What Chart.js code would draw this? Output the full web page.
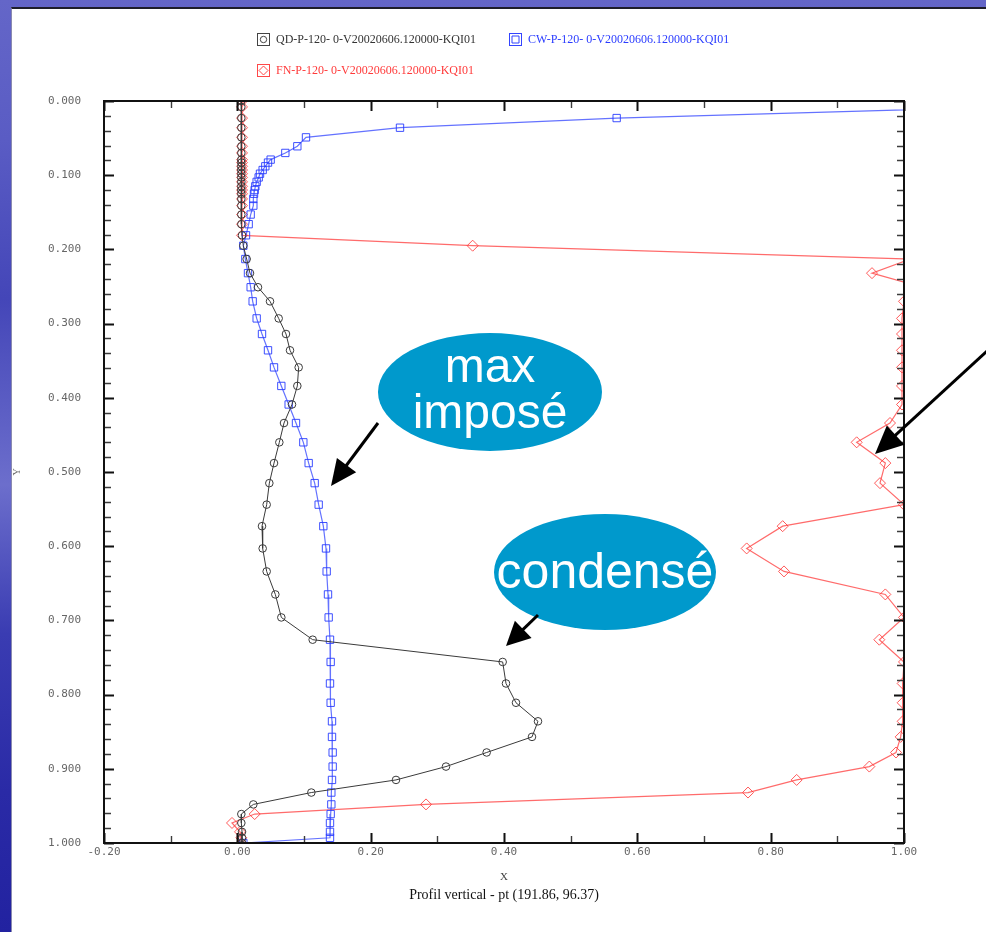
<!DOCTYPE html>
<html>
<head>
<meta charset="utf-8">
<title>Profil vertical</title>
<script src="https://cdn.jsdelivr.net/npm/chart.js@4.4.0/dist/chart.umd.min.js"></script>
<style>
  html, body { margin: 0; padding: 0; width: 986px; height: 932px; overflow: hidden; }
  body {
    position: relative;
    background: linear-gradient(180deg, #6466c8 0%, #5a5cc4 15%, #4446b8 32%, #6c6ecc 52%, #3a3cb2 68%, #2a2aa6 85%, #2222a0 100%);
  }
  #panel {
    position: absolute; left: 11px; top: 7px; right: 0; bottom: 0;
    background: #fff;
    border-top: 2px solid #1e1e2a;
    border-left: 1px solid #8a8ab0;
  }
  #wrap { position: absolute; left: 0; top: 0; width: 986px; height: 932px; }
</style>
</head>
<body>
<div id="panel"></div>
<div id="wrap"><canvas id="c" width="986" height="932"></canvas></div>
<script>
// Vertical levels (Y, 0 at the top) shared by the three profiles
const LEVELS = [
  0.000, 0.008, 0.023, 0.036, 0.049, 0.061, 0.070, 0.079, 0.083, 0.088,
  0.093, 0.098, 0.103, 0.109, 0.115, 0.120, 0.125, 0.132, 0.141, 0.153,
  0.166, 0.181, 0.195, 0.213, 0.232, 0.251, 0.270, 0.293, 0.314, 0.336,
  0.359, 0.384, 0.409, 0.434, 0.460, 0.488, 0.515, 0.544, 0.573, 0.603,
  0.634, 0.665, 0.696, 0.726, 0.756, 0.785, 0.811, 0.836, 0.857, 0.878,
  0.897, 0.915, 0.932, 0.948, 0.961, 0.973, 0.985, 0.993, 1.000
];

// QD profile (X value at each level)
const QD = [
  0.006, 0.006, 0.006, 0.006, 0.006, 0.006, 0.006, 0.006, 0.006, 0.006,
  0.006, 0.006, 0.006, 0.006, 0.006, 0.006, 0.006, 0.006, 0.006, 0.006,
  0.006, 0.007, 0.009, 0.014, 0.019, 0.031, 0.049, 0.062, 0.073, 0.079,
  0.092, 0.090, 0.082, 0.070, 0.063, 0.055, 0.048, 0.044, 0.037, 0.038,
  0.044, 0.057, 0.066, 0.113, 0.398, 0.403, 0.418, 0.451, 0.442, 0.374,
  0.313, 0.238, 0.111, 0.024, 0.006, 0.006, 0.007, 0.007, 0.007
];

// CW profile
const CW = [
  1.600, 1.157, 0.569, 0.244, 0.103, 0.090, 0.072, 0.050, 0.046, 0.042,
  0.038, 0.034, 0.032, 0.029, 0.027, 0.026, 0.025, 0.024, 0.024, 0.020,
  0.017, 0.013, 0.009, 0.012, 0.016, 0.020, 0.023, 0.029, 0.037, 0.046,
  0.055, 0.066, 0.077, 0.088, 0.099, 0.107, 0.116, 0.122, 0.129, 0.133,
  0.134, 0.136, 0.137, 0.139, 0.140, 0.139, 0.140, 0.142, 0.142, 0.143,
  0.143, 0.142, 0.141, 0.141, 0.140, 0.139, 0.139, 0.139, 0.009
];

// FN profile
const FN = [
  0.007, 0.007, 0.007, 0.007, 0.007, 0.007, 0.007, 0.007, 0.007, 0.007,
  0.007, 0.007, 0.007, 0.007, 0.007, 0.007, 0.007, 0.007, 0.007, 0.007,
  0.007, 0.007, 0.353, 1.010, 0.952, 1.028, 1.000, 0.997, 0.997, 0.997,
  0.997, 0.997, 0.997, 0.979, 0.929, 0.972, 0.964, 1.000, 0.818, 0.764,
  0.820, 0.972, 1.000, 0.963, 1.000, 0.998, 0.998, 0.998, 0.995, 0.988,
  0.948, 0.839, 0.766, 0.283, 0.026, -0.008, 0.004, 0.006, 0.006
];

const SERIES_NAMES = [
  'QD-P-120- 0-V20020606.120000-KQI01',
  'CW-P-120- 0-V20020606.120000-KQI01',
  'FN-P-120- 0-V20020606.120000-KQI01'
];

const X_TICK_LABELS = ['-0.20', '0.00', '0.20', '0.40', '0.60', '0.80', '1.00'];
const Y_TICK_LABELS = ['0.000', '0.100', '0.200', '0.300', '0.400', '0.500',
                       '0.600', '0.700', '0.800', '0.900', '1.000'];

const SUBTITLE = 'Profil vertical - pt (191.86, 96.37)';
const CALLOUT_TEXTS = [['max', 'imposé'], ['condensé']];

const toPoints = (xs) => xs.map((v, i) => ({ x: v, y: LEVELS[i] }));

const COLORS = {
  qd: '#3a3a3a',
  cwLine: 'rgba(40, 60, 255, 0.72)',
  cwMark: 'rgba(40, 60, 255, 0.9)',
  fnLine: 'rgba(255, 50, 50, 0.72)',
  fnMark: 'rgba(255, 60, 60, 0.85)'
};

// inward tick marks on all four sides plus the plot frame
const frameTicks = {
  id: 'frameTicks',
  afterDatasetsDraw(chart) {
    const { ctx, chartArea: a, scales: { x, y } } = chart;
    ctx.save();
    for (let i = 0; i <= 50; i++) {
      const major = i % 5 === 0;
      const py = Math.round(y.getPixelForValue(i / 50)) + 0.5;
      const len = major ? 10 : 7;
      ctx.strokeStyle = major ? '#111' : '#3c3c3c';
      ctx.lineWidth = major ? 2 : 1.4;
      ctx.beginPath();
      ctx.moveTo(a.left, py); ctx.lineTo(a.left + len, py);
      ctx.moveTo(a.right, py); ctx.lineTo(a.right - len, py);
      ctx.stroke();
    }
    for (let i = 0; i <= 12; i++) {
      const major = i % 2 === 0;
      const px = Math.round(x.getPixelForValue(-0.2 + i * 0.1)) + 0.5;
      const len = major ? 10 : 7;
      ctx.strokeStyle = major ? '#111' : '#3c3c3c';
      ctx.lineWidth = major ? 2 : 1.4;
      ctx.beginPath();
      ctx.moveTo(px, a.top); ctx.lineTo(px, a.top + len);
      ctx.moveTo(px, a.bottom); ctx.lineTo(px, a.bottom - len);
      ctx.stroke();
    }
    ctx.strokeStyle = '#111';
    ctx.lineWidth = 2;
    ctx.strokeRect(a.left, a.top, a.right - a.left, a.bottom - a.top);
    ctx.restore();
  }
};

function legendIcon(ctx, kind, x, y, color) {
  ctx.save();
  ctx.strokeStyle = color;
  ctx.lineWidth = 1;
  ctx.strokeRect(x + 0.5, y + 0.5, 12, 12);
  const cx = x + 6.5, cy = y + 6.5;
  ctx.beginPath();
  if (kind === 'circle') {
    ctx.arc(cx, cy, 3.2, 0, Math.PI * 2);
  } else if (kind === 'rect') {
    ctx.rect(cx - 3.5, cy - 3.5, 7, 7);
  } else {
    ctx.moveTo(cx, cy - 4.5); ctx.lineTo(cx + 4.5, cy);
    ctx.lineTo(cx, cy + 4.5); ctx.lineTo(cx - 4.5, cy); ctx.closePath();
  }
  ctx.stroke();
  ctx.restore();
}

function arrow(ctx, x1, y1, x2, y2, head, width) {
  const ang = Math.atan2(y2 - y1, x2 - x1);
  const bx = x2 - Math.cos(ang) * head, by = y2 - Math.sin(ang) * head;
  ctx.save();
  ctx.strokeStyle = '#000';
  ctx.fillStyle = '#000';
  ctx.lineWidth = 3;
  ctx.beginPath();
  ctx.moveTo(x1, y1); ctx.lineTo(bx + Math.cos(ang) * 2, by + Math.sin(ang) * 2);
  ctx.stroke();
  ctx.beginPath();
  ctx.moveTo(x2, y2);
  ctx.lineTo(bx + Math.sin(ang) * width / 2, by - Math.cos(ang) * width / 2);
  ctx.lineTo(bx - Math.sin(ang) * width / 2, by + Math.cos(ang) * width / 2);
  ctx.closePath();
  ctx.fill();
  ctx.restore();
}

// legend, subtitle and the callouts
const decorations = {
  id: 'decorations',
  afterDraw(chart) {
    const { ctx, chartArea: a } = chart;
    ctx.save();
    ctx.font = '12px "Liberation Serif", "Times New Roman", serif';
    ctx.textBaseline = 'middle';
    ctx.textAlign = 'left';
    const items = [
      { kind: 'circle', color: '#444', text: '#333', x: 257, y: 40 },
      { kind: 'rect', color: '#3344ff', text: '#2a3cff', x: 509, y: 40 },
      { kind: 'rectRot', color: '#ff4848', text: '#ff3a3a', x: 257, y: 71 }
    ];
    items.forEach((it, i) => {
      legendIcon(ctx, it.kind, it.x, it.y - 7, it.color);
      ctx.fillStyle = it.text;
      ctx.fillText(SERIES_NAMES[i], it.x + 19, it.y);
    });

    ctx.fillStyle = '#111';
    ctx.textAlign = 'center';
    ctx.font = '14px "Liberation Serif", "Times New Roman", serif';
    ctx.fillText(SUBTITLE, (a.left + a.right) / 2, 895);

    // callouts
    const bubbles = [
      { cx: 490, cy: 392, rx: 112, ry: 59, lines: CALLOUT_TEXTS[0], size: 48, base: [382, 428] },
      { cx: 605, cy: 572, rx: 111, ry: 58, lines: CALLOUT_TEXTS[1], size: 50, base: [588] }
    ];
    bubbles.forEach(b => {
      ctx.fillStyle = '#0099cc';
      ctx.beginPath();
      ctx.ellipse(b.cx, b.cy, b.rx, b.ry, 0, 0, Math.PI * 2);
      ctx.fill();
      ctx.fillStyle = '#fff';
      ctx.font = b.size + 'px "Liberation Sans", Arial, sans-serif';
      ctx.textBaseline = 'alphabetic';
      b.lines.forEach((t, k) => ctx.fillText(t, b.cx, b.base[k]));
    });
    arrow(ctx, 378, 423, 331, 486, 26, 24);
    arrow(ctx, 538, 615, 506, 646, 24, 24);
    arrow(ctx, 1010, 330, 875, 454, 28, 26);
    ctx.restore();
  }
};

new Chart(document.getElementById('c'), {
  type: 'scatter',
  data: {
    datasets: [
      {
        label: SERIES_NAMES[0], data: toPoints(QD), showLine: true,
        borderColor: COLORS.qd, borderWidth: 1,
        pointStyle: 'circle', pointRadius: 3.8, pointBorderWidth: 1,
        pointBorderColor: COLORS.qd, pointBackgroundColor: 'rgba(0,0,0,0)'
      },
      {
        label: SERIES_NAMES[1], data: toPoints(CW), showLine: true,
        borderColor: COLORS.cwLine, borderWidth: 1.2,
        pointStyle: 'rect', pointRadius: 5.2, pointBorderWidth: 1,
        pointBorderColor: COLORS.cwMark, pointBackgroundColor: 'rgba(0,0,0,0)'
      },
      {
        label: SERIES_NAMES[2], data: toPoints(FN), showLine: true,
        borderColor: COLORS.fnLine, borderWidth: 1.2,
        pointStyle: 'rectRot', pointRadius: 5.5, pointBorderWidth: 1,
        pointBorderColor: COLORS.fnMark, pointBackgroundColor: 'rgba(0,0,0,0)'
      }
    ]
  },
  options: {
    responsive: false,
    animation: false,
    events: [],
    layout: { padding: { left: 0, top: 101, right: 82, bottom: 0 } },
    plugins: { legend: { display: false }, tooltip: { enabled: false } },
    scales: {
      x: {
        type: 'linear', min: -0.2, max: 1.0,
        grid: { display: false, drawTicks: false }, border: { display: false },
        ticks: {
          stepSize: 0.2, padding: 3, color: '#666', maxRotation: 0,
          font: { family: '"DejaVu Sans Mono", monospace', size: 11 },
          callback: (v) => X_TICK_LABELS[Math.round((v + 0.2) / 0.2)]
        },
        title: {
          display: true, text: 'X', color: '#444',
          font: { family: '"Liberation Serif", serif', size: 11 },
          padding: { top: 0, bottom: 48 }
        },
        afterFit: (s) => { s.height = 89; }
      },
      y: {
        type: 'linear', min: 0, max: 1, reverse: true,
        grid: { display: false, drawTicks: false }, border: { display: false },
        ticks: {
          stepSize: 0.1, padding: 23, color: '#666',
          font: { family: '"DejaVu Sans Mono", monospace', size: 11 },
          callback: (v) => Y_TICK_LABELS[Math.round(v * 10)]
        },
        title: {
          display: true, text: 'Y', color: '#666',
          font: { family: '"Liberation Serif", serif', size: 10 },
          padding: { top: 11, bottom: 0 }
        },
        afterFit: (s) => { s.width = 104; }
      }
    }
  },
  plugins: [frameTicks, decorations]
});
</script>
</body>
</html>
